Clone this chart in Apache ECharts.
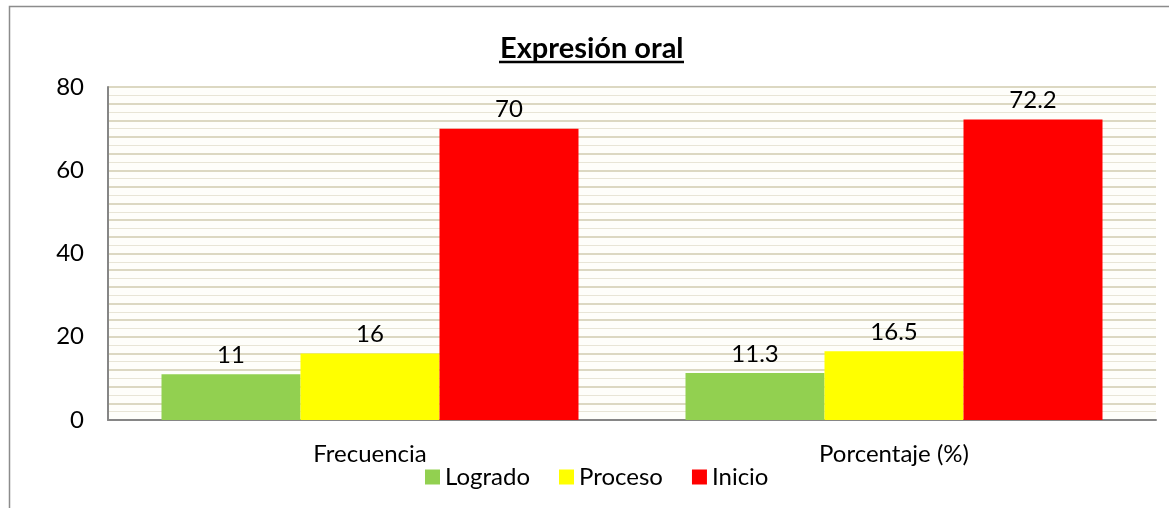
<!DOCTYPE html>
<html lang="es">
<head>
    <meta charset="UTF-8">
    <title>Expresión oral</title>
    <style>
        html, body { margin: 0; padding: 0; background: #fff; }
        #container { width: 1169px; height: 508px; }
    </style>
    <script src="https://cdn.jsdelivr.net/npm/echarts@6/dist/echarts.min.js"></script>
</head>
<body>
<div id="container"></div>
<script type="text/javascript">
    // datos
    var categorias = ['Frecuencia', 'Porcentaje (%)'];
    var logrado = [11, 11.3];
    var proceso = [16, 16.5];
    var inicio = [70, 72.2];
    var nombres = ['Logrado', 'Proceso', 'Inicio'];
    var colores = ['#92d050', '#ffff00', '#ff0000'];

    var fuente = 'Lato, "Liberation Sans", sans-serif';
    var myChart = echarts.init(document.getElementById('container'));

    function serie(nombre, datos, color) {
        return {
            name: nombre,
            type: 'bar',
            data: datos,
            barWidth: 139,
            barGap: '0%',
            itemStyle: { color: color },
            label: {
                show: true,
                position: 'top',
                distance: 7,
                color: '#000',
                fontFamily: fuente,
                fontSize: 24
            }
        };
    }

    var option = {
        backgroundColor: '#fff',
        animation: false,
        title: {
            text: 'Expresión oral',
            left: 495,
            top: 29,
            textStyle: { fontFamily: fuente, fontSize: 29, fontWeight: 'bold', color: '#000' }
        },
        graphic: [
            { type: 'rect', shape: { x: 9.5, y: 6.5, width: 1300, height: 600 },
              style: { fill: 'none', stroke: '#8c8c8c', lineWidth: 1.5 }, silent: true },
            { type: 'line', shape: { x1: 499, y1: 62, x2: 684, y2: 62 },
              style: { stroke: '#000', lineWidth: 2.5 }, silent: true }
        ],
        legend: {
            data: nombres,
            left: 420,
            top: 460,
            icon: 'rect',
            itemWidth: 15,
            itemHeight: 15,
            itemGap: 29,
            textStyle: { fontFamily: fuente, fontSize: 24, color: '#000' }
        },
        grid: {
            left: 108, right: 13, top: 87, bottom: 88,
            show: true, backgroundColor: '#fefefa', borderWidth: 0
        },
        xAxis: {
            type: 'category',
            data: categorias,
            axisTick: { show: false },
            axisLine: { lineStyle: { color: '#868686', width: 2 } },
            axisLabel: { color: '#000', fontFamily: fuente, fontSize: 24, margin: 22 }
        },
        yAxis: [{
            type: 'value',
            min: 0, max: 80, interval: 20,
            axisLine: { show: true, lineStyle: { color: '#868686', width: 2 } },
            axisTick: { show: false },
            axisLabel: { color: '#000', fontFamily: fuente, fontSize: 24, margin: 24 },
            splitLine: { lineStyle: { color: '#dcd8c2', width: 2 } },
            minorTick: { show: false, splitNumber: 10 },
            minorSplitLine: { show: true, lineStyle: { color: '#e8e5d6', width: 1 } }
        }, {
            type: 'value',
            min: 0, max: 80, interval: 4,
            position: 'left',
            axisLine: { show: false },
            axisTick: { show: false },
            axisLabel: { show: false },
            splitLine: { lineStyle: { color: '#dcd8c2', width: 2 } }
        }],
        series: [
            serie(nombres[0], logrado, colores[0]),
            serie(nombres[1], proceso, colores[1]),
            serie(nombres[2], inicio, colores[2])
        ]
    };

    myChart.setOption(option);
</script>
</body>
</html>
